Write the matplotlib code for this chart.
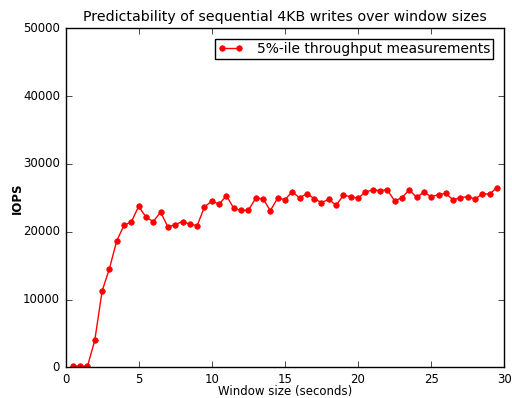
import matplotlib
matplotlib.use("Agg")
import matplotlib.pyplot as plt

plt.style.use('classic')
plt.rcParams['font.family'] = ['DejaVu Sans']

# window sizes (seconds) and 5th percentile IOPS
window_sizes = [0.5, 1.0, 1.5, 2.0, 2.5, 3.0, 3.5, 4.0, 4.5, 5.0,
                5.5, 6.0, 6.5, 7.0, 7.5, 8.0, 8.5, 9.0, 9.5, 10.0,
                10.5, 11.0, 11.5, 12.0, 12.5, 13.0, 13.5, 14.0, 14.5, 15.0,
                15.5, 16.0, 16.5, 17.0, 17.5, 18.0, 18.5, 19.0, 19.5, 20.0,
                20.5, 21.0, 21.5, 22.0, 22.5, 23.0, 23.5, 24.0, 24.5, 25.0,
                25.5, 26.0, 26.5, 27.0, 27.5, 28.0, 28.5, 29.0, 29.5]
iops = [150, 200, 150, 4000, 11250, 14550, 18650, 20950, 21450, 23750,
        22150, 21500, 22900, 20700, 21050, 21500, 21100, 20900, 23650, 24530,
        24050, 25320, 23450, 23160, 23160, 24930, 24880, 23110, 24930, 24730,
        25910, 24980, 25620, 24880, 24290, 24780, 23900, 25370, 25170, 24930,
        25860, 26160, 26060, 26200, 24530, 25030, 26160, 25080, 25810, 25170,
        25470, 25660, 24680, 25030, 25170, 24830, 25570, 25570, 26500]

fig = plt.figure(figsize=(5.12, 3.98), dpi=100)
fig.patch.set_facecolor('white')
ax = fig.add_axes([0.128, 0.077, 0.857, 0.852])
ax.plot(window_sizes, iops, 'r-', marker='o', markersize=4, markeredgecolor='r',
        linewidth=1, label='5%-ile throughput measurements')
ax.set_xlim(0, 30)
ax.set_ylim(0, 50000)
ax.tick_params(labelsize=8.5)
ax.set_xlabel('Window size (seconds)', fontsize=8.5, labelpad=-1)
ax.set_ylabel('IOPS', fontsize=8.5, fontweight='bold', labelpad=-1)
ax.set_title('Predictability of sequential 4KB writes over window sizes', fontsize=10.2)
ax.legend(loc='upper right', fontsize=10, numpoints=2, borderaxespad=0.8,
          borderpad=0.2, handlelength=1.8, handletextpad=1.0)
plt.savefig('out.png', dpi=100, facecolor='white')
